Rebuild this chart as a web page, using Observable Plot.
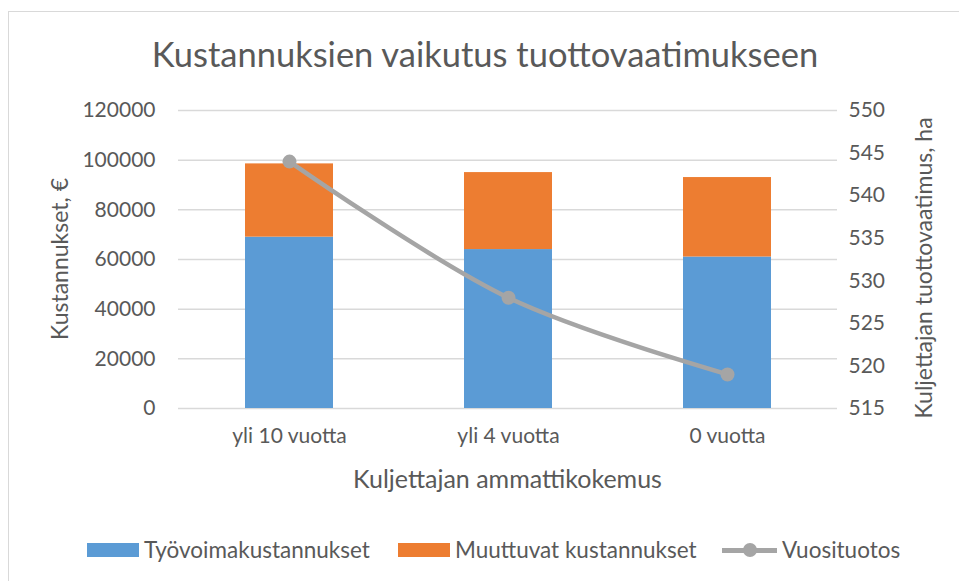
<!DOCTYPE html>
<html>
<head>
<meta charset="utf-8">
<script src="https://cdn.jsdelivr.net/npm/d3@7"></script>
<script src="https://cdn.jsdelivr.net/npm/@observablehq/plot@0.6"></script>
<style>
  html, body { margin: 0; padding: 0; background: #fff; }
  #wrap { position: relative; width: 959px; height: 581px; overflow: hidden; font-family: Lato, "Open Sans", sans-serif; color: #595959; }
  #frame { position: absolute; left: 8px; top: 11px; width: 1000px; height: 700px; border: 1.5px solid #d9d9d9; box-sizing: border-box; }
  .layer { position: absolute; left: 0; top: 0; }
  #title { position: absolute; left: 0; width: 970px; top: 34px; text-align: center; font-size: 34.5px; line-height: 40px; }
  #xtitle { position: absolute; left: 178px; width: 659px; top: 463px; text-align: center; font-size: 25px; line-height: 30px; }
  .ytitle { position: absolute; font-size: 23px; line-height: 28px; white-space: nowrap; transform: translate(-50%, -50%) rotate(-90deg); }
  #legend { position: absolute; top: 536px; left: 0; width: 959px; height: 28px; font-size: 22.5px; line-height: 28px; }
  .item { position: absolute; top: 0; display: flex; align-items: center; height: 28px; }
  .sw { display: inline-block; width: 52px; height: 14px; margin-right: 5px; }
  .lsw { position: relative; width: 55px; height: 14px; margin-right: 5px; }
  .lsw .ln { position: absolute; left: 0; right: 0; top: 5px; height: 4.5px; background: #a5a5a5; }
  .lsw .dt { position: absolute; left: 21px; top: 0; width: 14px; height: 14px; border-radius: 50%; background: #a5a5a5; }
</style>
</head>
<body>
<div id="wrap">
  <div id="frame"></div>
  <div id="title">Kustannuksien vaikutus tuottovaatimukseen</div>
  <div id="xtitle">Kuljettajan ammattikokemus</div>
  <div class="ytitle" style="left:59px; top:259px;">Kustannukset, €</div>
  <div class="ytitle" style="left:923px; top:268px;">Kuljettajan tuottovaatimus, ha</div>
  <div id="legend">
    <div class="item" style="left:87px;"><span class="sw" style="background:#5b9bd5"></span>Työvoimakustannukset</div>
    <div class="item" style="left:398px;"><span class="sw" style="background:#ed7d31"></span>Muuttuvat kustannukset</div>
    <div class="item" style="left:722px;"><span class="lsw"><span class="ln"></span><span class="dt"></span></span>Vuosituotos</div>
  </div>
</div>
<script>
const categories = ["yli 10 vuotta", "yli 4 vuotta", "0 vuotta"];
const labourCosts = [69000, 64000, 61000];      // Työvoimakustannukset
const variableCosts = [29500, 31000, 32000];    // Muuttuvat kustannukset
const annualOutput = [544, 528, 519];           // Vuosituotos (ha)
const leftTicks = [0, 20000, 40000, 60000, 80000, 100000, 120000];
const rightTicks = [515, 520, 525, 530, 535, 540, 545, 550];

const seriesNames = ["Työvoimakustannukset", "Muuttuvat kustannukset"];
const barData = [];
categories.forEach((c, i) => {
  barData.push({cat: c, series: seriesNames[0], value: labourCosts[i]});
  barData.push({cat: c, series: seriesNames[1], value: variableCosts[i]});
});
const lineData = categories.map((c, i) => ({cat: c, value: annualOutput[i]}));

const W = 959, H = 581;
const margins = {marginLeft: 178, marginRight: 122, marginTop: 110, marginBottom: 173};
const xOpts = {domain: categories, paddingInner: 0.6, paddingOuter: 0.3, align: 0.5};
const style = {fontFamily: "Lato, 'Open Sans', sans-serif", fontSize: "21px", color: "#595959", background: "transparent", overflow: "visible"};

const p1 = Plot.plot({
  width: W, height: H, ...margins, style,
  x: {type: "band", ...xOpts, label: null},
  y: {domain: [0, 120000], label: null},
  color: {domain: seriesNames, range: ["#5b9bd5", "#ed7d31"]},
  marks: [
    Plot.gridY(leftTicks, {stroke: "#d9d9d9", strokeOpacity: 1, strokeWidth: 1.5}),
    Plot.barY(barData, Plot.stackY({x: "cat", y: "value", fill: "series", order: seriesNames})),
    Plot.axisX({tickSize: 0, tickPadding: 20, label: null}),
    Plot.axisY(leftTicks, {tickSize: 0, tickPadding: 23, tickFormat: d3.format("d"), label: null})
  ]
});
p1.classList.add("layer");

const p2 = Plot.plot({
  width: W, height: H, ...margins, style,
  x: {type: "band", ...xOpts, label: null, axis: null},
  y: {domain: [515, 550], label: null, axis: null},
  marks: [
    Plot.line(lineData, {x: "cat", y: "value", stroke: "#a5a5a5", strokeWidth: 4.5, curve: "catmull-rom"}),
    Plot.dot(lineData, {x: "cat", y: "value", r: 7, fill: "#a5a5a5", stroke: "none"}),
    Plot.axisY(rightTicks, {anchor: "right", tickSize: 0, tickPadding: 11, tickFormat: d3.format("d"), label: null})
  ]
});
p2.classList.add("layer");

const wrap = document.getElementById("wrap");
wrap.insertBefore(p1, document.getElementById("title"));
wrap.insertBefore(p2, document.getElementById("title"));
</script>
</body>
</html>
